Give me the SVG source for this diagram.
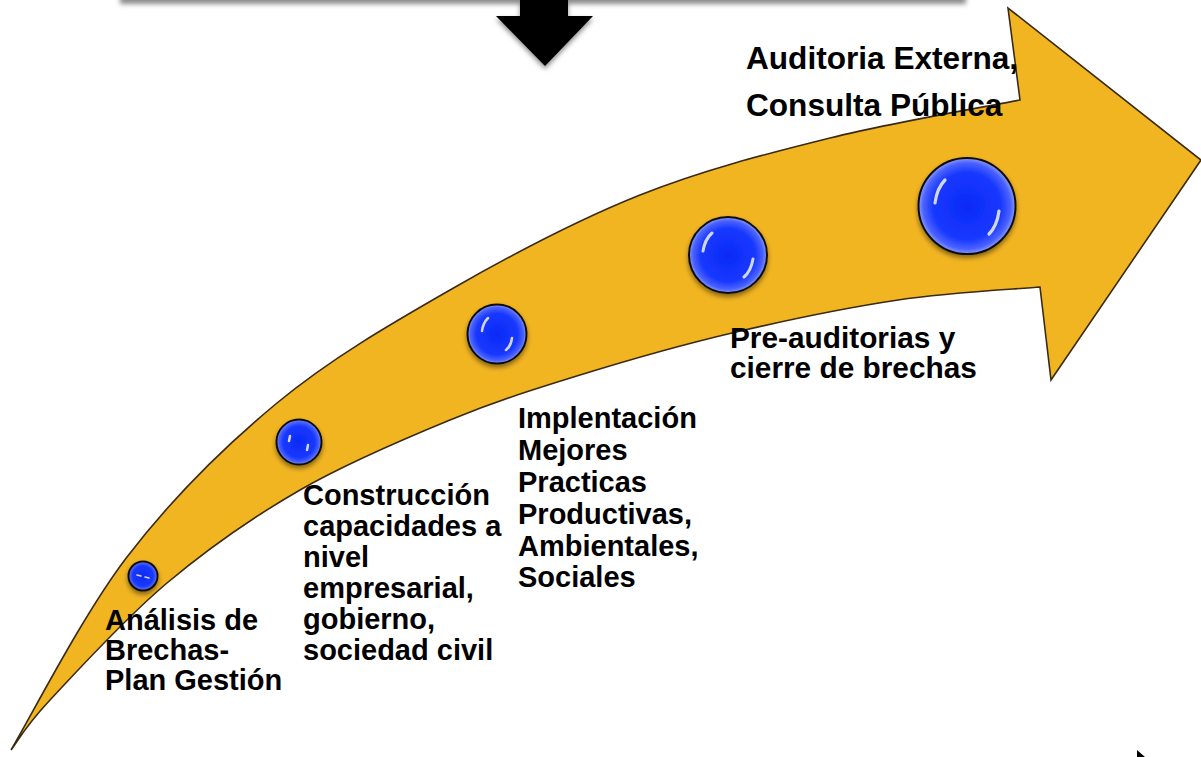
<svg xmlns="http://www.w3.org/2000/svg" width="1201" height="757" viewBox="0 0 1201 757">
<style>
.lbl{font-family:"Liberation Sans",Arial,Helvetica,sans-serif;font-weight:bold;fill:#000;}
.s29{font-size:29px;}
.s30{font-size:29.8px;}
.s31{font-size:31.6px;}
.ball{stroke:#111;stroke-width:2;}
.hl{fill:none;stroke:#fff;stroke-linecap:round;opacity:0.8;}
</style>
<defs>
<radialGradient id="bg" cx="50%" cy="50%" r="50%">
<stop offset="0" stop-color="#0a2af5"/>
<stop offset="0.7" stop-color="#1838ff"/>
<stop offset="0.9" stop-color="#4a62ff"/>
<stop offset="1" stop-color="#8c9cff"/>
</radialGradient>
<filter id="sh" x="-30%" y="-30%" width="160%" height="170%">
<feDropShadow dx="0" dy="3" stdDeviation="2.5" flood-color="#000" flood-opacity="0.45"/>
</filter>
<filter id="blur" x="-10%" y="-100%" width="120%" height="300%">
<feGaussianBlur stdDeviation="2.5"/>
</filter>
</defs>

<g id="top-box">
<rect x="120" y="-20" width="846" height="24" fill="#8a8a8a" filter="url(#blur)"/>
<rect x="118" y="-40" width="850" height="40" fill="#fff"/>
</g>

<g id="down-arrow">
<polygon points="520,0 568,0 568,16 593,16 545,66 496,16 520,16" fill="#000" filter="url(#sh)"/>
</g>

<g id="curved-arrow">
<path d="M11,750 C30.3,717.8 82.7,614.8 127,557 C171.3,499.2 223.2,447.5 277,403 C330.8,358.5 389.5,324.7 450,290 C510.5,255.3 576.7,220.3 640,195 C703.3,169.7 766.7,153.8 830,138 C893.3,122.2 988.3,106.3 1020,100 L1008,8 L1201,160 L1051,380 L1040,287 C1016.3,289.2 949.3,292.3 898,300 C846.7,307.7 785,320.5 732,333 C679,345.5 627,360.5 580,375 C533,389.5 496.7,400.8 450,420 C403.3,439.2 347.2,462.8 300,490 C252.8,517.2 208.7,548 167,583 C125.3,618 76,672.2 50,700 C24,727.8 17.5,741.7 11,750 Z" fill="#F2B522" stroke="#3a2a12" stroke-width="1.6" stroke-linejoin="miter"/>
</g>

<g id="node-1">
<circle cx="143" cy="576" r="14.5" class="ball" fill="url(#bg)" filter="url(#sh)"/>
<path class="hl" stroke-width="1.6" d="M137,575 L141,576 M145,577 L149,578"/>
</g>
<g id="node-2">
<circle cx="299" cy="442" r="22.5" class="ball" fill="url(#bg)" filter="url(#sh)"/>
<path class="hl" stroke-width="2.5" d="M290,436 L289,441 M308,445 L307,450"/>
</g>
<g id="node-3">
<circle cx="497" cy="334" r="29.5" class="ball" fill="url(#bg)" filter="url(#sh)"/>
<path class="hl" stroke-width="2.5" d="M482,331 Q483,323 488,318 M512,338 Q511,346 506,350"/>
</g>
<g id="node-4">
<ellipse cx="728" cy="255" rx="39" ry="38" class="ball" fill="url(#bg)" filter="url(#sh)"/>
<path class="hl" stroke-width="3" d="M703,251 Q705,239 712,233 M753,259 Q751,271 744,277"/>
</g>
<g id="node-5">
<ellipse cx="967" cy="206" rx="48.5" ry="48" class="ball" fill="url(#bg)" filter="url(#sh)"/>
<path class="hl" stroke-width="3.2" d="M935,203 Q937,188 945,180 M999,211 Q997,226 989,234"/>
</g>

<g id="label-1">
<text class="lbl s29" x="105" y="630">Análisis de</text>
<text class="lbl s29" x="105" y="660">Brechas-</text>
<text class="lbl s29" x="105" y="690">Plan Gestión</text>
</g>
<g id="label-2">
<text class="lbl s29" x="303" y="505">Construcción</text>
<text class="lbl s29" x="303" y="536">capacidades a</text>
<text class="lbl s29" x="303" y="567">nivel</text>
<text class="lbl s29" x="303" y="598">empresarial,</text>
<text class="lbl s29" x="303" y="629">gobierno,</text>
<text class="lbl s29" x="303" y="660">sociedad civil</text>
</g>
<g id="label-3">
<text class="lbl s29" x="518" y="428">Implentación</text>
<text class="lbl s29" x="518" y="460">Mejores</text>
<text class="lbl s29" x="518" y="492">Practicas</text>
<text class="lbl s29" x="518" y="524">Productivas,</text>
<text class="lbl s29" x="518" y="556">Ambientales,</text>
<text class="lbl s29" x="518" y="587">Sociales</text>
</g>
<g id="label-4">
<text class="lbl s30" x="730" y="348">Pre-auditorias y</text>
<text class="lbl s30" x="730" y="378">cierre de brechas</text>
</g>
<g id="label-5">
<text class="lbl s31" x="746" y="69">Auditoria Externa,</text>
<text class="lbl s31" x="746" y="116">Consulta Pública</text>
</g>

<g id="cursor">
<polygon points="1137,750 1145,757 1137,757" fill="#000"/>
</g>
</svg>
